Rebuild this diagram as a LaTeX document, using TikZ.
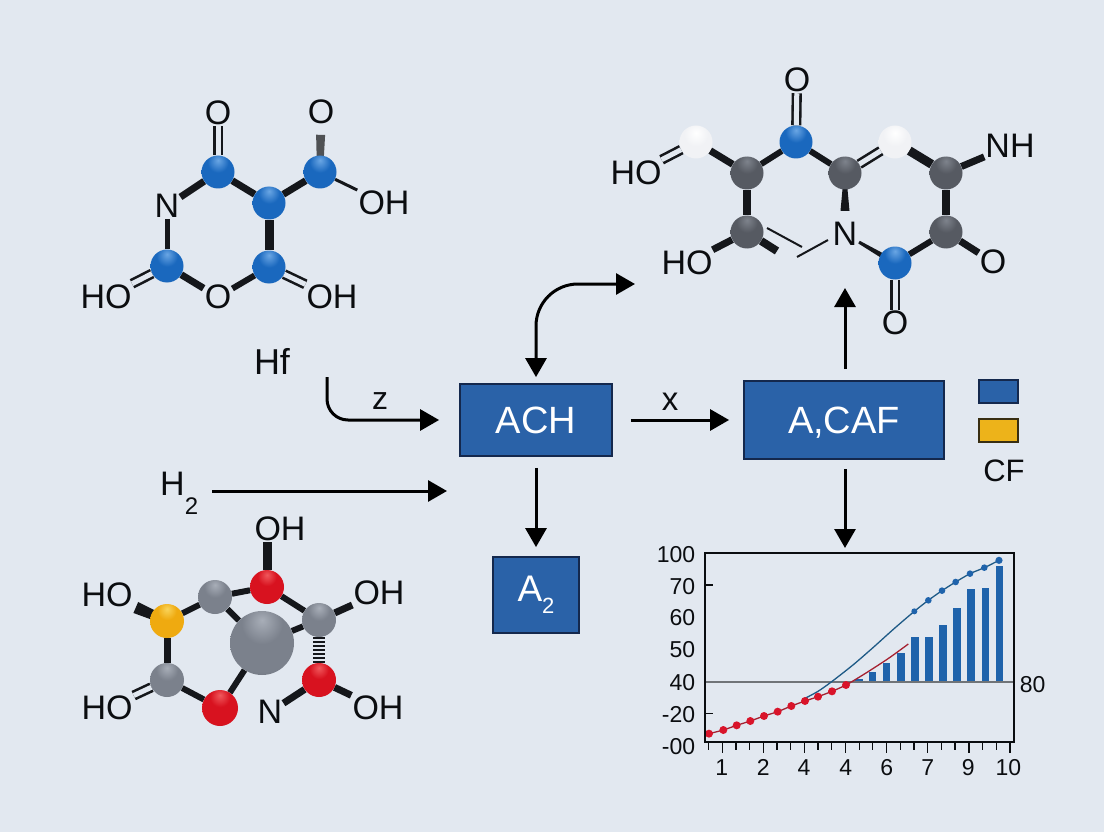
\documentclass[tikz,border=0pt]{standalone}
\usepackage{fontspec}
\setmainfont{Liberation Sans}
\usetikzlibrary{arrows.meta,calc}
\definecolor{bgc}{HTML}{E2E8F0}
\definecolor{bondc}{HTML}{15171B}
\definecolor{txtc}{HTML}{0B0D10}
\definecolor{boxc}{HTML}{2A62A8}
\definecolor{boxl}{HTML}{14284D}
\definecolor{goldc}{HTML}{EDB31A}
\definecolor{redc}{HTML}{D9142A}
\definecolor{bluec}{HTML}{1F63AB}
\definecolor{curvc}{HTML}{1E5A86}
\definecolor{curvr}{HTML}{A52030}
\definecolor{hlinec}{HTML}{707478}
\newcommand{\mkball}[7]{%
  \definecolor{#1h}{HTML}{#2}\definecolor{#1b}{HTML}{#3}\definecolor{#1e}{HTML}{#4}%
  \pgfdeclareradialshading{#1}{\pgfpoint{#5bp}{#6bp}}{color(0bp)=(#1h); color(#7bp)=(#1b); color(34bp)=(#1b); color(50bp)=(#1e); color(100bp)=(#1e)}}
\mkball{ballblue}{6AA6E4}{1A68BE}{0F4E98}{0}{18}{16}
\mkball{ballgd}{7E838C}{565A62}{3E4147}{0}{18}{16}
\mkball{ballgl}{A8AEB8}{7B818C}{5C616B}{0}{18}{16}
\mkball{ballred}{F0585C}{D8121F}{A80D18}{0}{18}{14}
\mkball{ballyel}{F9D45A}{EFAA10}{C48908}{0}{18}{14}
\mkball{ballwh}{FFFFFF}{F1F2F5}{AEB2BA}{0}{14}{18}
\tikzset{
  atom/.style={circle,inner sep=0pt,minimum size=#1*2pt,shade},
  bluea/.style={atom=16.5,shading=ballblue},
  greyd/.style={atom=16.5,shading=ballgd},
  greyl/.style={atom=17,shading=ballgl},
  greyb/.style={atom=32,shading=ballgl},
  reda/.style={atom=17,shading=ballred},
  yela/.style={atom=17,shading=ballyel},
  whta/.style={atom=16.5,shading=ballwh},
  lbl/.style={inner sep=1pt,text=txtc,font=\fontsize{34}{34}\selectfont},
  sgl/.style={draw=bondc,line width=#1},
  sgl/.default=6pt,
  dbl/.style={draw=bondc,double=bgc,double distance=5pt,line width=2.6pt},
  hash/.style={draw=bondc,line width=12pt,dash pattern=on 1.6pt off 2.4pt},
  arr/.style={draw=black,line width=3pt,-{Triangle[length=19pt,width=21pt]}},
  arrb/.style={draw=black,line width=3pt,{Triangle[length=19pt,width=21pt]}-{Triangle[length=19pt,width=21pt]}},
  flow/.style={rectangle,fill=boxc,draw=boxl,line width=1.8pt,text=white,inner sep=0pt},
  flowt/.style={flow,text height=27pt,text depth=0pt,font=\fontsize{38}{38}\selectfont},
  tick/.style={draw=txtc,line width=1.5pt},
  axlbl/.style={inner sep=0pt,text=txtc,text height=16pt,text depth=0pt,font=\fontsize{23}{23}\selectfont},
  rpt/.style={circle,fill=redc,inner sep=0pt,minimum size=8pt},
  bpt/.style={circle,fill=bluec,inner sep=0pt,minimum size=6pt},
}
\newcommand{\bondwedge}[6][bondc]{%
  \coordinate (wp) at ($(#2)!#6!(#3)$);
  \fill[#1] ($(#2)!#4pt!90:(wp)$) -- ($(wp)!#5pt!-90:(#2)$) -- ($(wp)!#5pt!90:(#2)$) -- ($(#2)!#4pt!-90:(wp)$) -- cycle;}
\pgfdeclarelayer{back}
\pgfdeclarelayer{bonds}
\pgfsetlayers{back,bonds,main}
\begin{document}
\begin{tikzpicture}[x=1pt,y=-1pt]
\begin{pgfonlayer}{back}
\fill[bgc] (0,0) rectangle (1104,832);
\end{pgfonlayer}
\useasboundingbox (0,0) rectangle (1104,832);

% ---------- top-left molecule
\node[bluea] (a1) at (218,172) {};
\node[bluea] (a2) at (269,203) {};
\node[bluea] (a3) at (320,172) {};
\node[bluea] (a4) at (167,266) {};
\node[bluea] (a5) at (269,267) {};
\node[lbl] (aO1) at (218,113) {O};
\node[lbl] (aO2) at (321,112) {O};
\node[lbl] (aOH) at (384,203) {OH};
\node[lbl] (aN) at (167,206) {N};
\node[lbl] (aHO) at (106,297) {HO};
\node[lbl] (aO3) at (218,297) {O};
\node[lbl] (aOH2) at (332,297) {OH};
\begin{pgfonlayer}{bonds}
\draw[sgl=7pt] (a1) -- (aN);
\draw[sgl=7pt] (a1) -- (a2);
\draw[sgl=7pt] (a2) -- (a3);
\draw[sgl=9pt] (a2) -- (a5);
\draw[sgl=3pt] (a3) -- (aOH);
\draw[sgl=5pt] (aN) -- (a4);
\draw[sgl=7pt] (a4) -- (aO3);
\draw[sgl=6pt] (aO3) -- (a5);
\draw[dbl] (a1) -- (aO1);
\draw[dbl] (a4) -- (aHO);
\draw[dbl] (a5) -- (aOH2);
\bondwedge[black!65!bgc]{a3}{aO2}{3}{4.5}{0.62}
\end{pgfonlayer}

% ---------- top-right molecule
\node[whta] (h1) at (696,142) {};
\node[greyd] (c1) at (747,173) {};
\node[bluea] (n1) at (796,142) {};
\node[greyd] (c2) at (845,173) {};
\node[whta] (h2) at (895,142) {};
\node[greyd] (c3) at (946,173) {};
\node[greyd] (c4) at (747,232) {};
\node[greyd] (c5) at (946,232) {};
\node[bluea] (n2) at (895,263) {};
\node[lbl] (bN) at (845,234) {N};
\node[lbl] (bO1) at (797,80) {O};
\node[lbl] (bHO) at (636,173) {HO};
\node[lbl] (bNH) at (1010,146) {NH};
\node[lbl] (bHO2) at (687,263) {HO};
\node[lbl] (bO2) at (993,262) {O};
\node[lbl] (bO3) at (895,323) {O};
\coordinate (t1a) at (767,228);
\coordinate (t1b) at (802,247);
\coordinate (t2a) at (797,257);
\coordinate (t2b) at (828,240);
\coordinate (st) at (777,251);
\begin{pgfonlayer}{bonds}
\draw[sgl=7pt] (h1) -- (c1);
\draw[sgl=6pt] (c1) -- (n1);
\draw[sgl=6pt] (n1) -- (c2);
\draw[sgl=9pt] (h2) -- (c3);
\draw[sgl=8pt] (c1) -- (c4);
\draw[sgl=8pt] (c3) -- (c5);
\draw[sgl=6pt] (c5) -- (n2);
\draw[sgl=7pt] (c5) -- (bO2);
\draw[sgl=7pt] (c3) -- (bNH);
\draw[sgl=7pt] (c4) -- (bHO2);
\draw[sgl=8pt] (c4) -- (st);
\draw[sgl=2pt] (t1a) -- (t1b);
\draw[sgl=2pt] (t2a) -- (t2b);
\draw[dbl] (h1) -- (bHO);
\draw[dbl] (n1) -- (bO1);
\draw[dbl] (c2) -- (h2);
\draw[dbl] (n2) -- (bO3);
\bondwedge{n2}{bN}{3}{1.5}{0.72}
\bondwedge{c2}{bN}{1}{4.5}{0.62}
\end{pgfonlayer}

% ---------- bottom-left molecule
\node[greyb] (big) at (262,643) {};
\node[greyl] (g1) at (215,597) {};
\node[reda] (r1) at (267,587) {};
\node[greyl] (g2) at (319,620) {};
\node[yela] (ye) at (167,621) {};
\node[greyl] (g3) at (167,680) {};
\node[reda,minimum size=36pt] (r2) at (220,708) {};
\node[reda] (r3) at (319,680) {};
\node[lbl] (cOH1) at (280,529) {OH};
\node[lbl] (cHO1) at (107,595) {HO};
\node[lbl] (cOH2) at (379,593) {OH};
\node[lbl] (cHO2) at (107,708) {HO};
\node[lbl] (cN) at (270,712) {N};
\node[lbl] (cOH3) at (378,708) {OH};
\begin{pgfonlayer}{bonds}
\draw[sgl=9pt] (r1) -- (r1 |- cOH1.south);
\draw[sgl=6pt] (ye) -- (g1);
\draw[sgl=6pt] (g1) -- (r1);
\draw[sgl=6pt] (r1) -- (g2);
\draw[sgl=6pt] (g2) -- (big);
\draw[sgl=6pt] (g1) -- (big);
\draw[sgl=6pt] (big) -- (r2);
\draw[sgl=6pt] (r2) -- (g3);
\draw[sgl=7pt] (ye) -- (g3);
\draw[sgl=7pt] (g2) -- (cOH2);
\draw[sgl=7pt] (r3) -- (cN);
\draw[sgl=7pt] (r3) -- (cOH3);
\draw[hash] (g2) -- (r3);
\draw[dbl] (g3) -- (cHO2);
\bondwedge{ye}{cHO1}{4}{6}{0.52}
\end{pgfonlayer}

% ---------- flow boxes
\node[flowt,minimum width=152pt,minimum height=72pt] (ach) at (536,420) {ACH};
\node[flow,minimum width=86pt,minimum height=76pt,font=\fontsize{37}{37}\selectfont] (a2box) at (536,595) {A\raisebox{-0.32em}{\fontsize{22}{22}\selectfont 2}};
\node[flowt,minimum width=200pt,minimum height=78pt] (caf) at (844,420) {A,CAF};
\node[flow,minimum width=39pt,minimum height=23pt] (legb) at (998.5,391.5) {};
\node[flow,fill=goldc,draw=txtc!80!goldc,minimum width=39pt,minimum height=23pt] (legy) at (998.5,430.5) {};
\node[lbl,font=\fontsize{31}{31}\selectfont] (cf) at (1004,471) {CF};
\node[lbl,font=\fontsize{36}{36}\selectfont] (hf) at (272,361) {Hf};
\node[lbl,font=\fontsize{32}{32}\selectfont] (zl) at (380,401) {z};
\node[lbl,font=\fontsize{33}{33}\selectfont] (xl) at (670,402) {x};
\node[lbl,anchor=west] (h2l) at (159,493) {H\raisebox{-0.55em}{\fontsize{24}{24}\selectfont 2}};

% ---------- arrows
\coordinate (zs) at (327,377);
\coordinate (hs) at (212,491);
\coordinate (he) at (447,491);
\coordinate (cu) at (635,284);
\coordinate (mu) at (845,288);
\coordinate (cafb) at (845,459);
\coordinate (caft) at (845,381);
\coordinate (cht) at (845,553);
\draw[arr,rounded corners=21pt] (zs) |- ([xshift=-20pt]ach.west);
\draw[arr] (hs) -- (he);
\draw[arr,shorten <=11pt,shorten >=9pt] (ach) -- (a2box);
\draw[arr,shorten <=18pt,shorten >=14pt] (ach.east) -- (caf.west);
\draw[arr,shorten <=12pt] (caft) -- (mu);
\draw[arr,shorten <=10pt,shorten >=5pt] (cafb) -- (cht);
\draw[arrb,rounded corners=42pt,shorten <=6pt] (ach.north) -- (536,284) -- (cu);

% ---------- chart (coordinates measured in 3x crop units)
\begin{scope}[shift={(640,530)},x=0.33333pt,y=-0.33333pt]
\foreach \cx/\ct in {657/448,698/427,740/399,783/368,825/320,867/321,909/285,951/234,993/177,1036/175,1078/108}{
  \fill[bluec] (\cx-11,\ct) rectangle (\cx+11,455);
}
\draw[draw=hlinec,line width=1.7pt] (195,455) -- (1122,455);
\draw[curvc,line width=1.3pt] plot[smooth] coordinates {(495,505) (534,484) (575,455) (640,404) (700,352) (760,298) (823,244) (865,211) (906,182) (947,156) (990,131) (1033,113) (1077,91)};
\draw[curvr,line width=1.3pt] plot[smooth] coordinates {(207,611) (250,600) (290,586) (331,573) (372,558) (413,545) (454,528) (495,513) (534,500) (576,484) (618,465) (657,442) (700,415) (750,382) (805,342)};
\foreach \px/\py in {207/611,250/600,290/586,331/573,372/558,413/545,454/528,495/513,534/500,576/484,618/465}{
  \node[rpt] at (\px,\py) {};
}
\foreach \px/\py/\ps in {823/244/6,865/211/6.6,906/182/6.6,947/156/6.6,990/131/6.6,1033/113/6.6,1077/91/7.2}{
  \node[bpt,minimum size=\ps pt] at (\px,\py) {};
}
\draw[draw=txtc,line width=1.9pt] (195,68) rectangle (1122,636);
\foreach \ty in {165,550}{ \draw[tick] (195,\ty) -- (220,\ty); }
\foreach \tx in {206,288,328,411,452,534,575,658,698,781,822,904,945,1028,1069}{
  \draw[tick] (\tx,636) -- (\tx,660);
}
\foreach \tx in {247,370,493,617,740,863,987,1110}{
  \draw[tick] (\tx,636) -- (\tx,670);
}
\foreach \lx/\lt in {245/1,370/2,492/4,617/4,740/6,863/7,985/9,1105/10}{
  \node[axlbl] at (\lx,711) {\lt};
}
\foreach \ly/\lt in {72/100,170/70,262/60,358/50,458/40,553/-20,650/-00}{
  \node[axlbl,anchor=east] at (166,\ly) {\lt};
}
\node[axlbl] at (1178,462) {80};
\end{scope}
\end{tikzpicture}
\end{document}
